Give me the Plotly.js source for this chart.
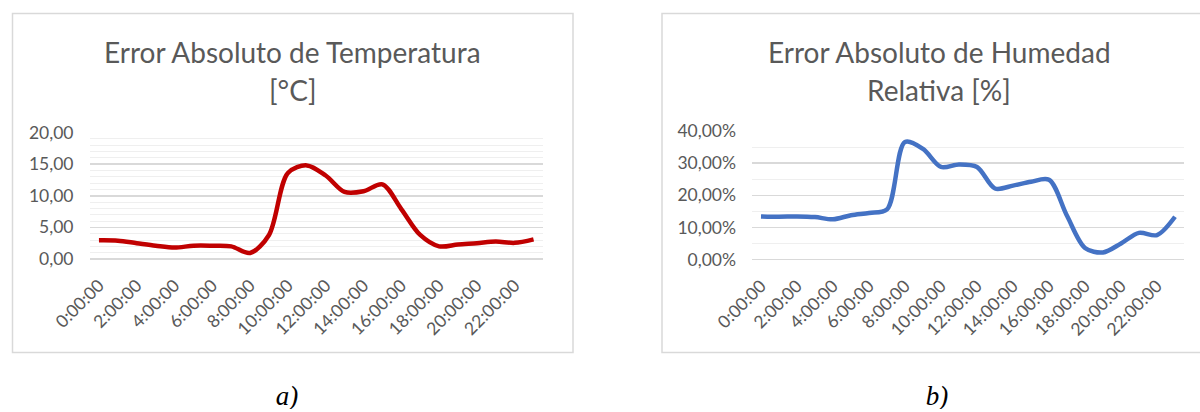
<!DOCTYPE html>
<html>
<head>
<meta charset="utf-8">
<script src="https://cdn.plot.ly/plotly-3.0.1.min.js"></script>
<style>
  html, body { margin: 0; padding: 0; background: #ffffff; }
  #chart { width: 1200px; height: 412px; }
</style>
</head>
<body>
<div id="chart"></div>
<script>
// ---- data ----
const hours = ["0:00:00","1:00:00","2:00:00","3:00:00","4:00:00","5:00:00","6:00:00","7:00:00",
               "8:00:00","9:00:00","10:00:00","11:00:00","12:00:00","13:00:00","14:00:00","15:00:00",
               "16:00:00","17:00:00","18:00:00","19:00:00","20:00:00","21:00:00","22:00:00","23:00:00"];
const hourTicks = ["0:00:00","2:00:00","4:00:00","6:00:00","8:00:00","10:00:00",
                   "12:00:00","14:00:00","16:00:00","18:00:00","20:00:00","22:00:00"];
const tempError = [2.95, 2.9, 2.5, 2.1, 1.8, 2.1, 2.1, 2.0, 0.95, 3.8, 13.6, 14.8,
                   13.2, 10.6, 10.7, 11.8, 7.9, 3.8, 2.0, 2.3, 2.5, 2.75, 2.55, 3.1];
const humError = [13.4, 13.3, 13.4, 13.2, 12.5, 13.8, 14.5, 15.6, 36.6, 34.4, 28.8, 29.6,
                  28.8, 22.1, 23.0, 24.2, 24.8, 13.6, 3.6, 2.2, 5.0, 8.3, 7.6, 13.3];
const tempTitle = ["Error Absoluto de Temperatura", "[°C]"];
const humTitle = ["Error Absoluto de Humedad", "Relativa [%]"];
const captions = ["a)", "b)"];

// ---- helpers ----
const W = 1200, H = 412;
const px = x => x / W;
const py = y => (H - y) / H;
const textGray = "#595959";
const tickFont = { family: "Lato, 'Open Sans', sans-serif", size: 17.5, color: textGray };
const titleFont = { family: "Lato, 'Open Sans', sans-serif", size: 28, color: textGray };
const capFont = { family: "'Liberation Serif', 'Times New Roman', serif", size: 27, color: "#000000", style: "italic" };

const traces = [
  { x: hours, y: tempError, type: "scatter", mode: "lines", xaxis: "x", yaxis: "y",
    line: { color: "#c00000", width: 4.5, shape: "spline", smoothing: 0.9 }, hoverinfo: "x+y" },
  { x: hours, y: humError, type: "scatter", mode: "lines", xaxis: "x2", yaxis: "y2",
    line: { color: "#4472c4", width: 4.5, shape: "spline", smoothing: 0.9 }, hoverinfo: "x+y" }
];

function xAxis(domain, anchor) {
  return {
    domain: domain, anchor: anchor, type: "category", categoryorder: "array", categoryarray: hours,
    range: [-0.5, 23.5], tickmode: "array", tickvals: hourTicks, ticktext: hourTicks,
    tickangle: -45, tickfont: tickFont, showgrid: false, zeroline: false, showline: false,
    ticks: "", ticklabelstandoff: 12, fixedrange: true
  };
}
function yAxis(domain, anchor, maxv, dtick, minorDtick, suffix) {
  return {
    domain: domain, anchor: anchor, range: [0, maxv], tickmode: "linear", tick0: 0, dtick: dtick,
    tickformat: ".2f", ticksuffix: suffix, tickfont: tickFont,
    showgrid: true, gridcolor: "#d9d9d9", gridwidth: 1.5,
    zeroline: true, zerolinecolor: "#d9d9d9", zerolinewidth: 1.5, showline: false, ticks: "",
    minor: { dtick: minorDtick, showgrid: true, gridcolor: "#efefef", gridwidth: 1 },
    ticklabelstandoff: 15, fixedrange: true
  };
}

const annotations = [];
function addTitle(lines, cx) {
  annotations.push({ xref: "paper", yref: "paper", x: px(cx), y: py(52), xanchor: "center", yanchor: "middle",
    text: lines[0], showarrow: false, font: titleFont });
  annotations.push({ xref: "paper", yref: "paper", x: px(cx), y: py(90), xanchor: "center", yanchor: "middle",
    text: lines[1], showarrow: false, font: titleFont });
}
addTitle(tempTitle, 292.5);
addTitle(humTitle, 939);
annotations.push({ xref: "paper", yref: "paper", x: px(287), y: py(396), xanchor: "center", yanchor: "middle",
  text: captions[0], showarrow: false, width: 50, height: 26, font: capFont });
annotations.push({ xref: "paper", yref: "paper", x: px(937), y: py(396), xanchor: "center", yanchor: "middle",
  text: captions[1], showarrow: false, width: 50, height: 26, font: capFont });

const shapes = [
  { type: "rect", xref: "paper", yref: "paper", x0: px(12.5), x1: px(573), y0: py(352.5), y1: py(13.5),
    line: { color: "#d9d9d9", width: 1.5 }, fillcolor: "rgba(0,0,0,0)", layer: "below" },
  { type: "rect", xref: "paper", yref: "paper", x0: px(662), x1: px(1222), y0: py(352.5), y1: py(13.5),
    line: { color: "#d9d9d9", width: 1.5 }, fillcolor: "rgba(0,0,0,0)", layer: "below" }
];

const layout = {
  width: W, height: H, margin: { l: 0, r: 0, t: 0, b: 0 },
  paper_bgcolor: "#ffffff", plot_bgcolor: "rgba(0,0,0,0)",
  separators: ",.", showlegend: false,
  xaxis: xAxis([px(89.5), px(543)], "y"),
  yaxis: yAxis([py(259), py(132.5)], "x", 20, 5, 1, ""),
  xaxis2: xAxis([px(752), px(1184)], "y2"),
  yaxis2: yAxis([py(259.5), py(131)], "x2", 40, 10, 5, "%"),
  annotations: annotations, shapes: shapes
};

Plotly.newPlot("chart", traces, layout, { staticPlot: true, displayModeBar: false });
</script>
</body>
</html>
